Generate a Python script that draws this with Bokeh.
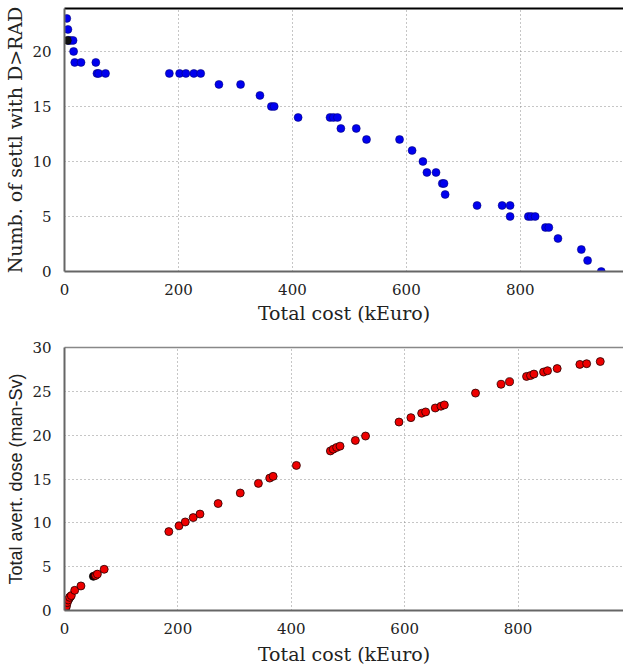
from bokeh.plotting import figure
from bokeh.layouts import column
from bokeh.models import LinearAxis, FixedTicker, Range1d
from bokeh.embed import file_html
from bokeh.resources import INLINE

# ---- data: top chart (number of settlements with D>RAD vs total cost)
cost_settl = [4, 6, 7, 10, 15, 16, 18, 29, 55, 57, 60, 72,
              184, 202, 213, 227, 239, 271, 309, 343, 363, 368,
              410, 466, 472, 479, 485, 512, 530, 588, 610, 629,
              636, 652, 663, 666, 668, 724, 768, 782, 782, 814,
              819, 826, 844, 850, 866, 907, 918, 942]
settl = [23, 22, 21, 21, 21, 20, 19, 19, 19, 18, 18, 18,
         18, 18, 18, 18, 18, 17, 17, 16, 15, 15,
         14, 14, 14, 14, 13, 13, 12, 12, 11, 10,
         9, 9, 8, 8, 7, 6, 6, 6, 5, 5,
         5, 5, 4, 4, 3, 2, 1, 0]
cost_settl_dark = [5]
settl_dark = [21]

# ---- data: bottom chart (total averted dose vs total cost)
cost_dose = [2, 3.5, 5, 6.5, 9, 12, 18, 29, 55, 58, 70,
             184, 202, 213, 227, 239, 271, 310, 342, 362, 368,
             409, 469, 474, 480, 486, 513, 531, 590, 611, 630,
             637, 654, 664, 670, 725, 770, 785, 815, 822, 828,
             845, 852, 869, 909, 921, 945]
dose = [0.2, 0.5, 0.9, 1.2, 1.5, 1.7, 2.3, 2.8, 4.0, 4.15, 4.7,
        9.0, 9.66, 10.1, 10.6, 11.0, 12.2, 13.4, 14.5, 15.1, 15.3,
        16.55, 18.2, 18.4, 18.6, 18.75, 19.4, 19.9, 21.5, 22.0, 22.5,
        22.65, 23.1, 23.3, 23.45, 24.8, 25.8, 26.1, 26.7, 26.8, 26.97,
        27.2, 27.35, 27.6, 28.07, 28.15, 28.4]
cost_dose_dark = [51, 8, 10]
dose_dark = [3.9, 1.35, 1.55]

x_ticks = [0, 200, 400, 600, 800]
y_ticks_top = [0, 5, 10, 15, 20]
y_ticks_bottom = [0, 5, 10, 15, 20, 25, 30]

SERIF = "DejaVu Serif"
SANS = "Liberation Sans"


def style(p, yticks, ylabel_font, ylabel_size, top_color, top_width, xlab_standoff):
    p.xaxis.ticker = FixedTicker(ticks=x_ticks)
    p.yaxis.ticker = FixedTicker(ticks=yticks)
    for ax in (p.xaxis[0], p.yaxis[0]):
        ax.axis_line_color = "#666666"
        ax.axis_line_width = 2
        ax.major_tick_line_color = None
        ax.minor_tick_line_color = None
        ax.major_label_text_font = SERIF
        ax.major_label_text_font_size = "15px"
        ax.major_label_text_color = "#222222"
        ax.axis_label_text_font_style = "normal"
        ax.axis_label_text_color = "#222222"
    p.xaxis.axis_label_text_font = SERIF
    p.xaxis.axis_label_text_font_size = "19px"
    p.yaxis.axis_label_text_font = ylabel_font
    p.yaxis.axis_label_text_font_size = ylabel_size
    p.xaxis.major_label_standoff = 6
    p.yaxis.major_label_standoff = 7
    p.xaxis.axis_label_standoff = xlab_standoff
    p.yaxis.axis_label_standoff = 3
    for g in (p.xgrid[0], p.ygrid[0]):
        g.grid_line_color = "#8c8c8c"
        g.grid_line_dash = "1 3"
        g.grid_line_width = 1
    p.xgrid.ticker = FixedTicker(ticks=x_ticks)
    p.ygrid.ticker = FixedTicker(ticks=yticks)
    top = LinearAxis(ticker=FixedTicker(ticks=[]), axis_line_color=top_color,
                     axis_line_width=top_width, major_tick_line_color=None,
                     minor_tick_line_color=None)
    p.add_layout(top, "above")
    p.outline_line_color = None
    p.background_fill_color = "white"
    p.border_fill_color = "white"


p1 = figure(width=623, height=327, output_backend="svg", toolbar_location=None,
            x_range=Range1d(0, 981), y_range=Range1d(0, 23.9),
            min_border_left=64, min_border_right=0, min_border_top=8,
            min_border_bottom=56,
            x_axis_label="Total cost (kEuro)",
            y_axis_label="Numb. of settl with D>RAD")
style(p1, y_ticks_top, SERIF, "19px", "#000000", 2, 4)
p1.scatter(cost_settl, settl, size=8, fill_color="#0000ee",
           line_color="#000066", line_width=0.5)
p1.scatter(cost_settl_dark, settl_dark, size=8, fill_color="#111111",
           line_color="#000000", line_width=0.5)

p2 = figure(width=623, height=340, output_backend="svg", toolbar_location=None,
            x_range=Range1d(0, 986), y_range=Range1d(0, 30),
            min_border_left=63, min_border_right=0, min_border_top=20,
            min_border_bottom=56,
            x_axis_label="Total cost (kEuro)",
            y_axis_label="Total avert. dose (man-Sv)")
style(p2, y_ticks_bottom, SANS, "18px", "#888888", 1.5, 6)
p2.scatter(cost_dose_dark, dose_dark, size=8, fill_color="#1a0000",
           line_color="#000000", line_width=0.8)
p2.scatter(cost_dose, dose, size=8, fill_color="#ee0000",
           line_color="#220000", line_width=0.8)

layout = column(p1, p2, spacing=0)
open("out.html", "w").write(file_html(layout, INLINE))
